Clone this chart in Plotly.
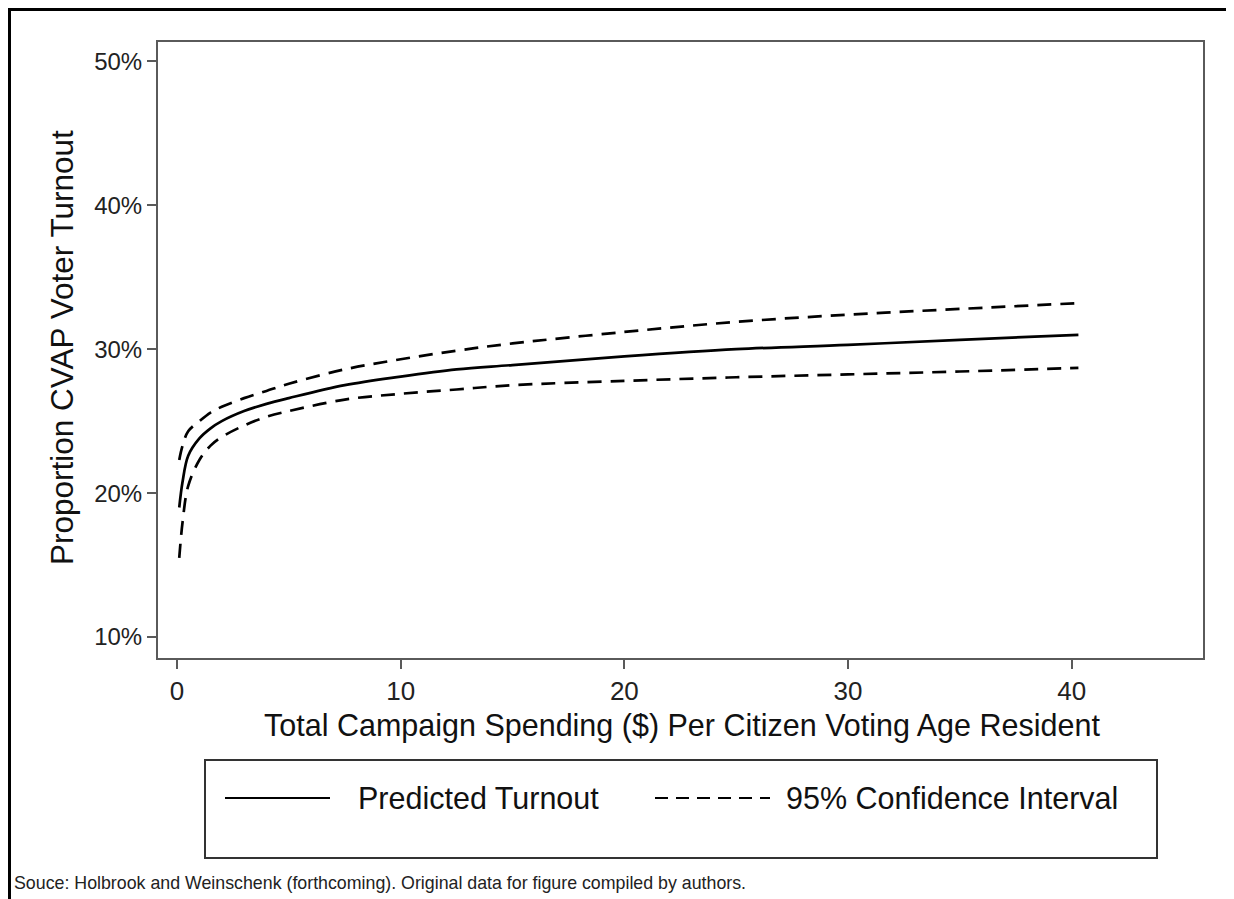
import plotly.graph_objects as go

# ---- data ----
spending = [0.1, 0.25, 0.5, 1, 1.5, 2, 3, 4, 5, 7.5, 10, 12.5, 15, 20, 25, 30, 35, 40.3]
predicted = [19.0, 20.8, 22.6, 23.8, 24.5, 25.0, 25.7, 26.2, 26.6, 27.5, 28.1, 28.6, 28.9, 29.5, 30.0, 30.3, 30.65, 31.0]
upper_ci = [22.3, 23.3, 24.3, 25.0, 25.6, 26.0, 26.6, 27.1, 27.6, 28.6, 29.3, 29.9, 30.4, 31.2, 31.9, 32.4, 32.8, 33.2]
lower_ci = [15.5, 18.0, 20.5, 22.3, 23.3, 23.9, 24.7, 25.3, 25.7, 26.5, 26.9, 27.2, 27.5, 27.8, 28.05, 28.25, 28.45, 28.7]

x_ticks = [0, 10, 20, 30, 40]
y_ticks = [10, 20, 30, 40, 50]
y_tick_labels = ["10%", "20%", "30%", "40%", "50%"]

x_title = "Total Campaign Spending ($) Per Citizen Voting Age Resident"
y_title = "Proportion CVAP Voter Turnout"
legend_labels = ["Predicted Turnout", "95% Confidence Interval"]
source_text = "Souce: Holbrook and Weinschenk (forthcoming). Original data for figure compiled by authors."

# ---- layout geometry (pixels, in page coordinates; page body has an 8px margin) ----
OFF = 8
W, H = 1234 - OFF, 899 - OFF
L, R, T, B = 158, 1203, 42, 658          # plot area in page pixels
FONT = "Liberation Sans, Arial, Helvetica, sans-serif"
DASH = "14px,9px"


def px(xp):
    return (xp - L) / (R - L)


def py(yp):
    return (B - yp) / (B - T)


fig = go.Figure()
fig.add_trace(go.Scatter(x=spending, y=upper_ci, mode="lines",
                         line=dict(color="black", width=2.7, dash=DASH, shape="spline"), showlegend=False))
fig.add_trace(go.Scatter(x=spending, y=lower_ci, mode="lines",
                         line=dict(color="black", width=2.7, dash=DASH, shape="spline"), showlegend=False))
fig.add_trace(go.Scatter(x=spending, y=predicted, mode="lines",
                         line=dict(color="black", width=2.7, shape="spline"), showlegend=False))

axis_col = "#5a5a5a"
fig.update_xaxes(range=[-0.85, 45.87], tickvals=x_ticks, ticks="outside", ticklen=9, tickwidth=2, tickcolor=axis_col,
                 showline=True, linecolor=axis_col, linewidth=2, mirror=True, showgrid=False, zeroline=False,
                 tickfont=dict(family=FONT, size=26, color="#222"))
fig.update_yaxes(range=[8.54, 51.35], tickvals=y_ticks, ticktext=y_tick_labels, ticks="outside", ticklen=9, tickwidth=2,
                 tickcolor=axis_col, showline=True, linecolor=axis_col, linewidth=2, mirror=True, showgrid=False,
                 zeroline=False, tickfont=dict(family=FONT, size=24, color="#222"))

shapes = [
    # outer frame
    dict(type="line", xref="paper", yref="paper", x0=px(8), x1=px(1234), y0=py(9.5), y1=py(9.5),
         line=dict(color="black", width=3)),
    dict(type="line", xref="paper", yref="paper", x0=px(9.5), x1=px(9.5), y0=py(8), y1=py(899),
         line=dict(color="black", width=3)),
    dict(type="line", xref="paper", yref="paper", x0=px(1231), x1=px(1231), y0=py(9), y1=py(896),
         line=dict(color="#888", width=2)),
    # legend box
    dict(type="rect", xref="paper", yref="paper", x0=px(205), x1=px(1157), y0=py(858), y1=py(760),
         line=dict(color="#333", width=2)),
    # legend samples
    dict(type="line", xref="paper", yref="paper", x0=px(225), x1=px(330), y0=py(798), y1=py(798),
         line=dict(color="black", width=2)),
    dict(type="line", xref="paper", yref="paper", x0=px(655), x1=px(770), y0=py(798), y1=py(798),
         line=dict(color="black", width=2, dash="13px,8px")),
]

annotations = [
    dict(text=x_title, xref="paper", yref="paper", x=px(682), y=py(725), showarrow=False,
         xanchor="center", yanchor="middle", font=dict(family=FONT, size=30.5, color="#111")),
    dict(text=y_title, xref="paper", yref="paper", x=px(62), y=py(348), showarrow=False,
         xanchor="center", yanchor="middle", textangle=-90, font=dict(family=FONT, size=31.5, color="#111")),
    dict(text=legend_labels[0], xref="paper", yref="paper", x=px(356), y=py(798), showarrow=False,
         xanchor="left", yanchor="middle", font=dict(family=FONT, size=30.5, color="#111")),
    dict(text=legend_labels[1], xref="paper", yref="paper", x=px(784), y=py(798), showarrow=False,
         xanchor="left", yanchor="middle", font=dict(family=FONT, size=30.5, color="#111")),
    dict(text=source_text, xref="paper", yref="paper", x=px(12), y=py(883), showarrow=False,
         xanchor="left", yanchor="middle", font=dict(family=FONT, size=17.8, color="#222")),
]

fig.update_layout(width=W, height=H,
                  margin=dict(l=L - OFF, r=W - (R - OFF), t=T - OFF, b=H - (B - OFF), autoexpand=False),
                  plot_bgcolor="white", paper_bgcolor="white", shapes=shapes, annotations=annotations,
                  showlegend=False)

fig.write_html("out.html", config={"displayModeBar": False})
